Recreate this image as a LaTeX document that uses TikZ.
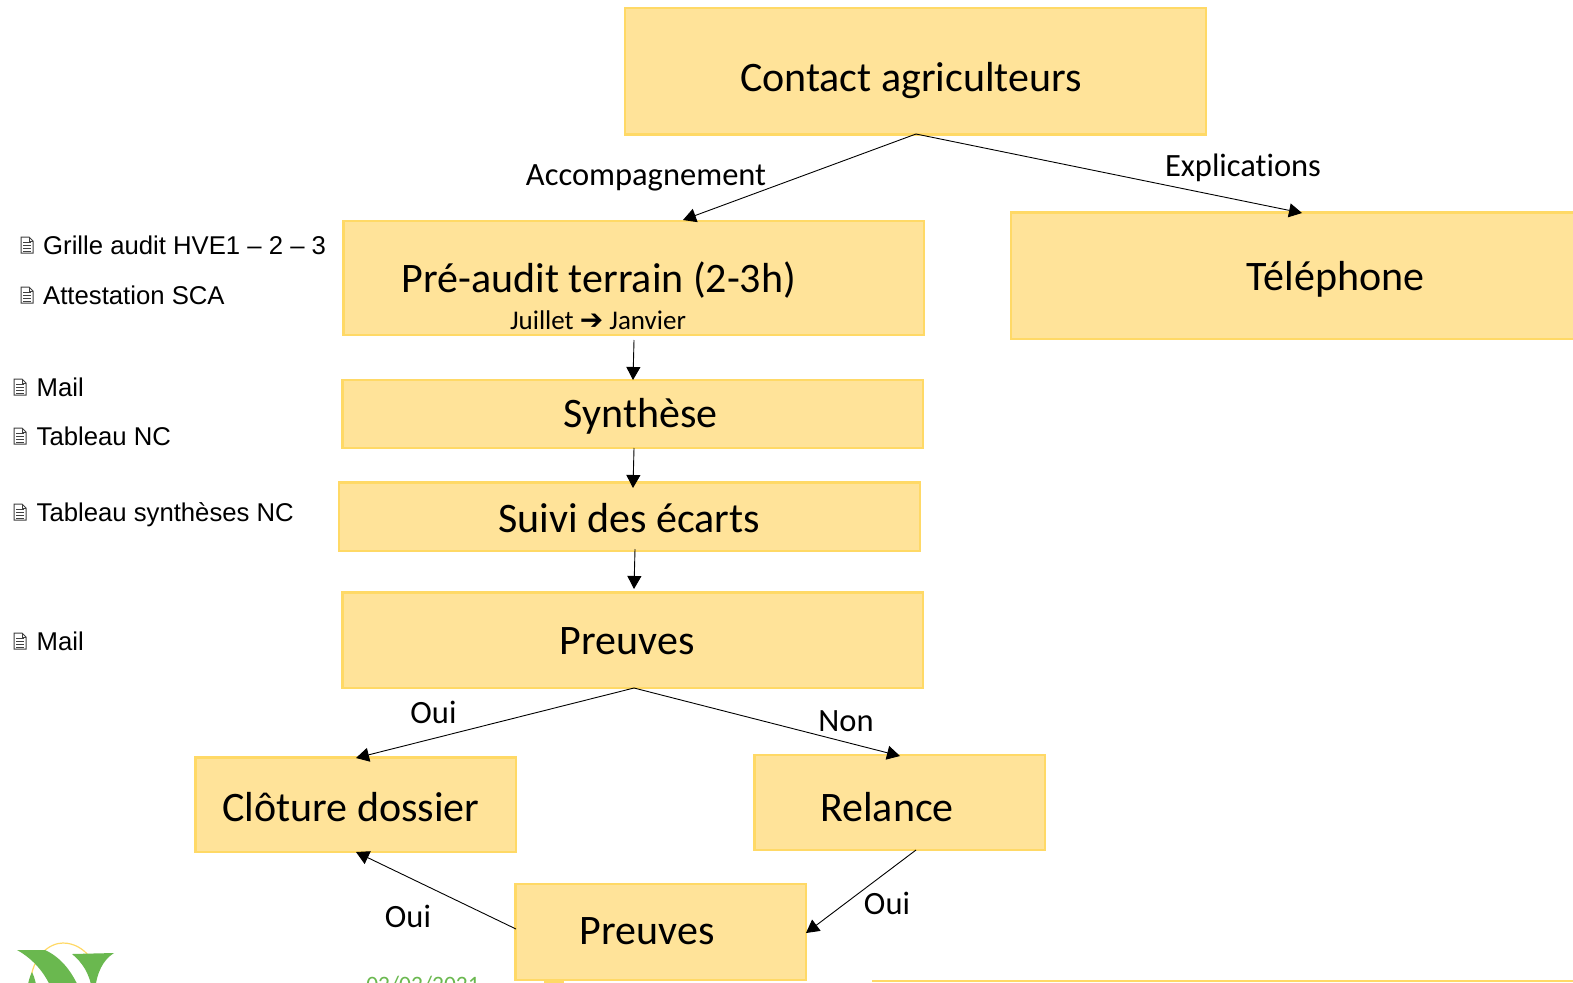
\documentclass[tikz,border=0pt]{standalone}
\usepackage{fontspec}
\setmainfont[Ligatures=NoCommon]{Carlito}
\newfontfamily\arialf{Liberation Sans}
\newfontfamily\djf{DejaVu Sans}
\usetikzlibrary{arrows.meta}
\definecolor{boxfill}{HTML}{FFE399}
\definecolor{boxline}{HTML}{FFD966}
\definecolor{leaf}{HTML}{6AB84F}
\tikzset{
  x=1pt,y=-1pt,
  box/.style={draw=boxline,fill=boxfill,line width=2.2pt},
  boxtext/.style={font=\fontsize{42}{46}\selectfont,inner sep=0pt,anchor=center},
  lab/.style={font=\fontsize{32.5}{36}\selectfont,inner sep=0pt,anchor=center},
  side/.style={font=\arialf\fontsize{25.7}{30}\selectfont,inner sep=0pt,anchor=west},
  link/.style={draw=black,line width=0.9pt,-{Triangle[length=13pt,width=14pt]}},
  docicon/.pic={
    \draw[black!75,line width=1pt,fill=white] (-6,-8) -- (2,-8) -- (6,-4) -- (6,8) -- (-6,8) -- cycle;
    \draw[black!75,line width=0.9pt] (2,-8) -- (2,-4) -- (6,-4);
    \foreach \yy in {-3,0,3,6} \draw[black!75,line width=0.9pt] (-4,\yy) -- (4,\yy);
  },
}
\begin{document}
\begin{tikzpicture}
\useasboundingbox (0,0) rectangle (1573,982);
\fill[white] (0,0) rectangle (1573,982);
\begin{scope}
\clip (0,0) rectangle (1573,982);
% footer, cut by the page edge
\node[font=\fontsize{23.5}{26}\selectfont,text=leaf,inner sep=0pt] (date) at (423,985) {02/02/2021};
\fill[boxline] (544,977) rectangle (564,990);
\draw[boxline,line width=2pt] (872,981) -- (1580,981);
% logo
\draw[boxline,line width=1.2pt] (30,985) .. controls (32,955) and (50,943) .. (63,943) .. controls (75,943) and (84,950) .. (88,955);
\fill[leaf] (17,950) -- (45,950) .. controls (62,958) and (72,972) .. (80,990) -- (52,990) .. controls (46,975) and (35,960) .. (17,950) -- cycle;
\fill[leaf] (72,954) -- (114,953) .. controls (103,960) and (97,972) .. (95,990) -- (92,990) .. controls (90,974) and (82,962) .. (72,954) -- cycle;
\fill[leaf] (27,990) .. controls (28,982) and (30,976) .. (32,972) .. controls (35,978) and (36,984) .. (37,990) -- cycle;
\path[box] (625,8) rectangle (1206,134.5);
\path[box] (343.5,221) rectangle (924,335);
\path[box] (1011,212.5) rectangle (1580,339);
\path[box] (342.5,380) rectangle (923,448);
\path[box] (339,482.5) rectangle (920,551);
\path[box] (342.5,592.5) rectangle (923,688);
\path[box] (195.5,757.5) rectangle (516,852);
\path[box] (754.5,755) rectangle (1045,850);
\path[box] (515.5,884) rectangle (806,980);
\end{scope}
\node[boxtext] (ca) at (911,81) {Contact agriculteurs};
\node[boxtext] (pa) at (599,280) {Pré-audit terrain (2-3h)};
\node[font=\fontsize{27}{29}\selectfont,inner sep=0pt] (ja) at (598,320.5) {Juillet {\djf\bfseries\fontsize{28}{28}\selectfont ➔} Janvier};
\node[boxtext] (te) at (1335.5,279) {Téléphone};
\node[boxtext] (sy) at (640.5,416) {Synthèse};
\node[boxtext] (se) at (629,518) {Suivi des écarts};
\node[boxtext] (p1) at (627,641) {Preuves};
\node[boxtext] (cl) at (351,807) {Clôture dossier};
\node[boxtext] (re) at (887,807) {Relance};
\node[boxtext] (p2) at (647,931) {Preuves};
\node[lab] (l1) at (646,178) {Accompagnement};
\node[lab] (l2) at (1243,168) {Explications};
\node[lab] (l3) at (433.5,712) {Oui};
\node[lab] (l4) at (846,721) {Non};
\node[lab] (l5) at (408,916) {Oui};
\node[lab] (l6) at (887,903) {Oui};
\pic at (27,245) {docicon};
\pic at (27,295) {docicon};
\pic at (20,387) {docicon};
\pic at (20,436) {docicon};
\pic at (20,512) {docicon};
\pic at (20,641) {docicon};
\node[side] (s1) at (43,245) {Grille audit HVE1 – 2 – 3};
\node[side] (s2) at (43,295) {Attestation SCA};
\node[side] (s3) at (36.5,387) {Mail};
\node[side] (s4) at (36.5,436) {Tableau NC};
\node[side] (s5) at (36.5,515) {Tableau synthèses NC};
\node[side] (s6) at (36.5,641) {Mail};
\coordinate (a0) at (916,134);
\coordinate (a1) at (683,220);
\coordinate (a2) at (1302,213);
\coordinate (b0) at (634,340);
\coordinate (b1) at (633,380);
\coordinate (c0) at (634,448);
\coordinate (c1) at (633,488);
\coordinate (d0) at (635,549);
\coordinate (d1) at (634,589);
\coordinate (e0) at (634,688);
\coordinate (e1) at (356,758);
\coordinate (e2) at (900,756);
\coordinate (f0) at (916,850);
\coordinate (f1) at (806,933);
\coordinate (g0) at (516,929);
\coordinate (g1) at (356,852);
\draw[link] (a0) -- (a1);
\draw[link] (a0) -- (a2);
\draw[link] (b0) -- (b1);
\draw[link] (c0) -- (c1);
\draw[link] (d0) -- (d1);
\draw[link] (e0) -- (e1);
\draw[link] (e0) -- (e2);
\draw[link] (f0) -- (f1);
\draw[link] (g0) -- (g1);
\end{tikzpicture}
\end{document}
